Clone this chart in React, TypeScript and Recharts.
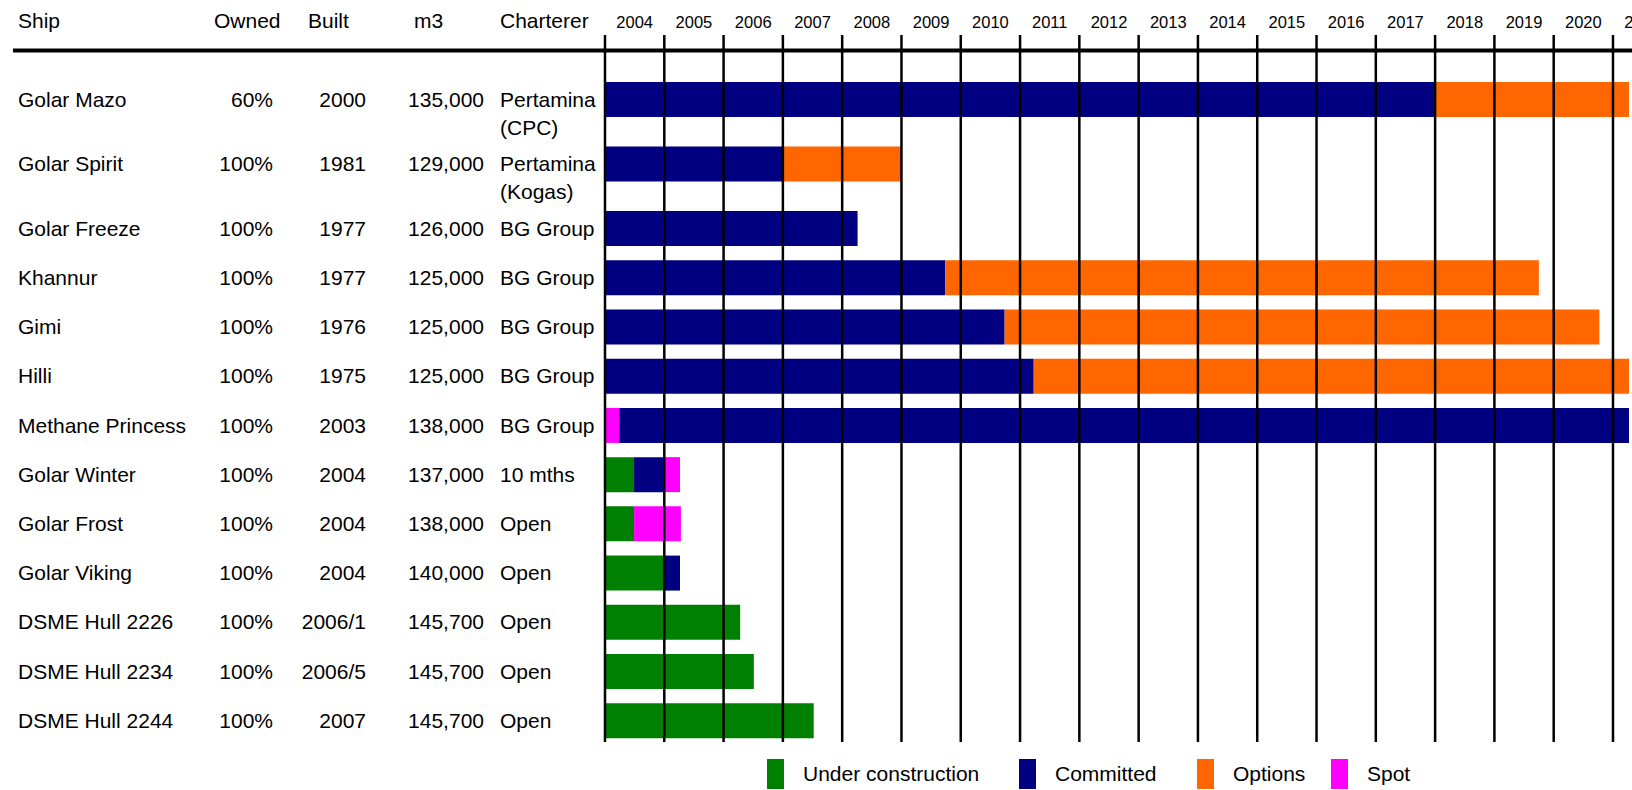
import React from "react";
import { BarChart, Bar, XAxis, YAxis, Cell, Legend } from "recharts";

const ships = [
  "Golar Mazo",
  "Golar Spirit",
  "Golar Freeze",
  "Khannur",
  "Gimi",
  "Hilli",
  "Methane Princess",
  "Golar Winter",
  "Golar Frost",
  "Golar Viking",
  "DSME Hull 2226",
  "DSME Hull 2234",
  "DSME Hull 2244",
];
const owned = ["60%", "100%", "100%", "100%", "100%", "100%", "100%", "100%", "100%", "100%", "100%", "100%", "100%"];
const built = ["2000", "1981", "1977", "1977", "1976", "1975", "2003", "2004", "2004", "2004", "2006/1", "2006/5", "2007"];
const capacity = [
  "135,000", "129,000", "126,000", "125,000", "125,000", "125,000", "138,000",
  "137,000", "138,000", "140,000", "145,700", "145,700", "145,700",
];
const charterers = [
  ["Pertamina", "(CPC)"],
  ["Pertamina", "(Kogas)"],
  ["BG Group"],
  ["BG Group"],
  ["BG Group"],
  ["BG Group"],
  ["BG Group"],
  ["10 mths"],
  ["Open"],
  ["Open"],
  ["Open"],
  ["Open"],
  ["Open"],
];
const years = [2004, 2005, 2006, 2007, 2008, 2009, 2010, 2011, 2012, 2013, 2014, 2015, 2016, 2017, 2018, 2019, 2020, 2021];

// timeline segments, in years from the start of 2004, left to right
const seg1Status = [
  "committed", "committed", "committed", "committed", "committed", "committed", "spot",
  "construction", "construction", "construction", "construction", "construction", "construction",
];
const seg1Years = [14, 3, 4.26, 5.74, 6.74, 7.23, 0.24, 0.49, 0.49, 1.0, 2.28, 2.51, 3.52];
const seg2Status = [
  "options", "options", "none", "options", "options", "options", "committed",
  "committed", "spot", "committed", "none", "none", "none",
];
const seg2Years = [3.27, 2, 0, 10.01, 10.03, 10.04, 17.03, 0.51, 0.79, 0.265, 0, 0, 0];
const seg3Status = ["none", "none", "none", "none", "none", "none", "none", "spot", "none", "none", "none", "none", "none"];
const seg3Years = [0, 0, 0, 0, 0, 0, 0, 0.265, 0, 0, 0, 0, 0];

const legendItems = [
  { key: "construction", label: "Under construction" },
  { key: "committed", label: "Committed" },
  { key: "options", label: "Options" },
  { key: "spot", label: "Spot" },
];

const COLORS: Record<string, string> = {
  construction: "#008000",
  committed: "#000080",
  options: "#FF6600",
  spot: "#FF00FF",
  none: "transparent",
};

const FONT = "'Liberation Sans', Arial, Helvetica, sans-serif";
const W = 1632;
const H = 790;
const PLOT_LEFT = 605;
const MARGIN_RIGHT = 3;
const X_MAX = 17.27;
const YEAR_PX = (W - PLOT_LEFT - MARGIN_RIGHT) / X_MAX;
const LEGEND_X = [767, 1019, 1197, 1331];

// rows with a two-line charterer get a little extra room below them
const EXTRA = 0.31;
const slots = charterers.map(
  (_, i) => i + EXTRA * charterers.slice(0, i).filter((c) => c.length > 1).length
);
const lastSlot = slots[slots.length - 1];

const rows = ships.map((name, i) => ({
  name,
  slot: slots[i],
  s1: seg1Years[i],
  s2: seg2Years[i],
  s3: seg3Years[i],
}));

function YearTick(props: any) {
  const { x, payload } = props;
  const i = payload.value;
  return (
    <g>
      <line x1={x} x2={x} y1={35} y2={742} stroke="#000" strokeWidth={2.5} />
      <text x={x + YEAR_PX / 2} y={27.5} textAnchor="middle" fontSize={16.5} fontFamily={FONT} fill="#000">
        {years[i]}
      </text>
    </g>
  );
}

function RowTick(props: any) {
  const { y, payload } = props;
  const i = slots.indexOf(payload.value);
  if (i < 0) return null;
  const base = y + 7;
  const t = { fontSize: 21, fontFamily: FONT, fill: "#000" };
  return (
    <g>
      <text x={18} y={base} {...t}>{ships[i]}</text>
      <text x={273} y={base} textAnchor="end" {...t}>{owned[i]}</text>
      <text x={366} y={base} textAnchor="end" {...t}>{built[i]}</text>
      <text x={484} y={base} textAnchor="end" {...t}>{capacity[i]}</text>
      {charterers[i].map((line, k) => (
        <text key={k} x={500} y={base + k * 28} {...t}>{line}</text>
      ))}
    </g>
  );
}

function Header() {
  const t = { fontSize: 21, fontFamily: FONT, fill: "#000", y: 28 };
  return (
    <g>
      <text x={18} {...t}>Ship</text>
      <text x={214} {...t}>Owned</text>
      <text x={308} {...t}>Built</text>
      <text x={414} {...t}>m3</text>
      <text x={500} {...t}>Charterer</text>
      <line x1={13} x2={W} y1={50.5} y2={50.5} stroke="#000" strokeWidth={4} />
    </g>
  );
}

function StatusLegend() {
  return (
    <div style={{ position: "relative", width: W, height: 30, fontFamily: FONT, fontSize: 21 }}>
      {legendItems.map((it, i) => (
        <div key={it.key} style={{ position: "absolute", left: LEGEND_X[i], top: 0, display: "flex", alignItems: "center", height: 30 }}>
          <span style={{ display: "inline-block", width: 17, height: 30, background: COLORS[it.key] }} />
          <span style={{ marginLeft: 19, lineHeight: "30px", whiteSpace: "nowrap" }}>{it.label}</span>
        </div>
      ))}
    </div>
  );
}

export default function App() {
  return (
    <div style={{ width: W, height: H, background: "#fff" }}>
      <style>{`body{margin:0}`}</style>
      <BarChart
        width={W}
        height={H}
        data={rows}
        layout="vertical"
        margin={{ top: 0, right: MARGIN_RIGHT, bottom: 14.5, left: 0 }}
      >
        <Header />
        <YAxis
          type="number"
          dataKey="slot"
          domain={[-0.5, lastSlot + 0.5]}
          ticks={slots}
          interval={0}
          width={PLOT_LEFT}
          axisLine={false}
          tickLine={false}
          tick={<RowTick />}
        />
        <Bar dataKey="s1" stackId="t" barSize={35} isAnimationActive={false}>
          {rows.map((_, i) => (
            <Cell key={i} fill={COLORS[seg1Status[i]]} />
          ))}
        </Bar>
        <Bar dataKey="s2" stackId="t" barSize={35} isAnimationActive={false}>
          {rows.map((_, i) => (
            <Cell key={i} fill={COLORS[seg2Status[i]]} />
          ))}
        </Bar>
        <Bar dataKey="s3" stackId="t" barSize={35} isAnimationActive={false}>
          {rows.map((_, i) => (
            <Cell key={i} fill={COLORS[seg3Status[i]]} />
          ))}
        </Bar>
        <XAxis
          type="number"
          orientation="top"
          domain={[0, X_MAX]}
          ticks={years.map((_, i) => i)}
          interval={0}
          height={75}
          axisLine={false}
          tickLine={false}
          tick={<YearTick />}
        />
        <Legend
          verticalAlign="bottom"
          height={30}
          wrapperStyle={{ left: 0, bottom: 1, width: W, height: 30 }}
          content={() => <StatusLegend />}
        />
      </BarChart>
    </div>
  );
}
